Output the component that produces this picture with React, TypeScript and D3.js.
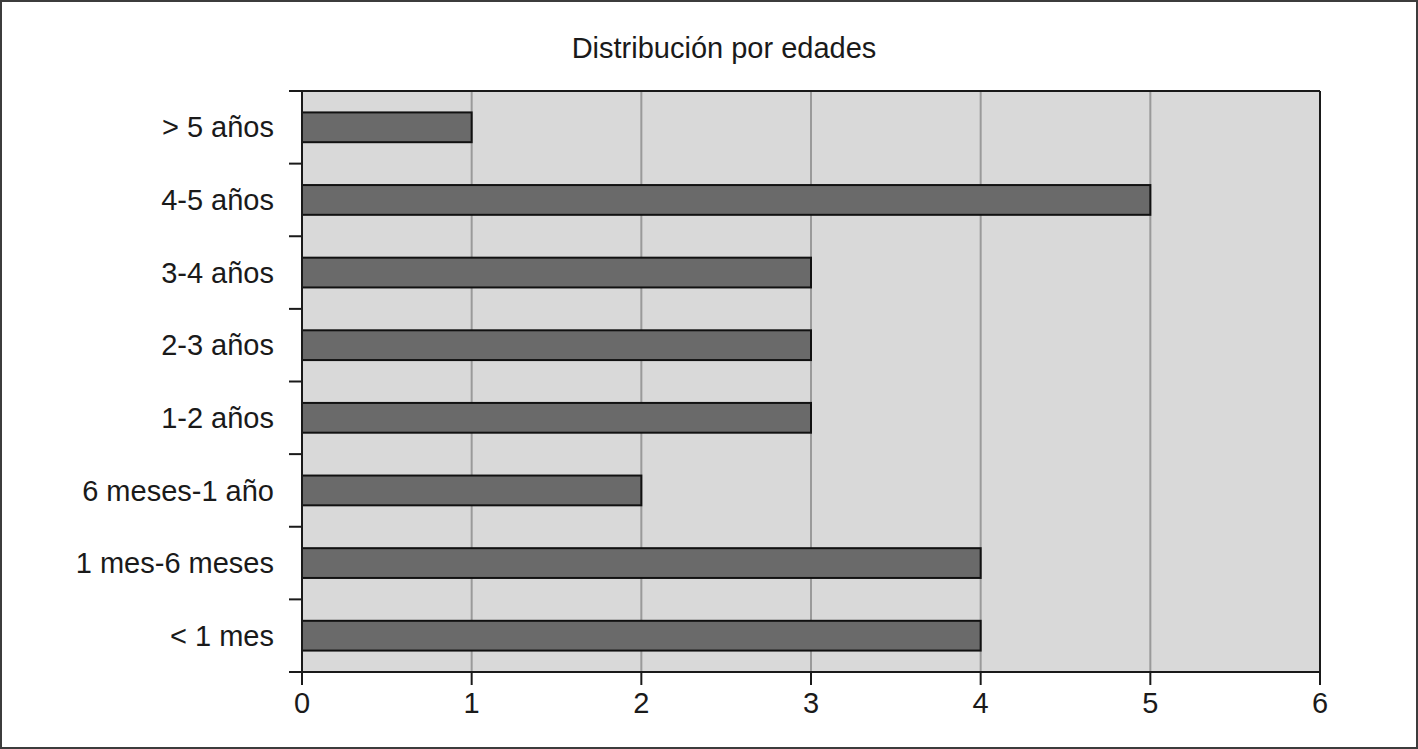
import React from "react";
import { scaleLinear, scaleBand, range } from "d3";

const width = 1418;
const height = 749;

const margin = { top: 91, right: 98, bottom: 77, left: 302 };

const title = "Distribución por edades";

// categories from top to bottom, as drawn
const categories = [
  "> 5 años",
  "4-5 años",
  "3-4 años",
  "2-3 años",
  "1-2 años",
  "6 meses-1 año",
  "1 mes-6 meses",
  "< 1 mes",
];
const values = [1, 5, 3, 3, 3, 2, 4, 4];
const xTicks = [0, 1, 2, 3, 4, 5, 6];

const fontFamily = "'Liberation Sans', Arial, Helvetica, sans-serif";
const textColor = "#1a1a1a";
const plotBg = "#d9d9d9";
const barFill = "#6a6a6a";
const gridColor = "#9a9a9a";
const axisColor = "#1a1a1a";

const tickLen = 13; // y ticks poke out left, x ticks poke out below
const fontSize = 29;

export default function App() {
  const innerWidth = width - margin.left - margin.right;
  const innerHeight = height - margin.top - margin.bottom;

  const xScale = scaleLinear().domain([0, 6]).range([0, innerWidth]);

  // bars are ~41% of each band, centered, so boundaries fall on ticks
  const yScale = scaleBand<string>()
    .domain(categories)
    .range([0, innerHeight])
    .paddingInner(0.59)
    .paddingOuter(0.295);

  const step = yScale.step();
  const boundaries = range(categories.length + 1).map((i) => i * step);

  return (
    <svg
      width={width}
      height={height}
      style={{ position: "absolute", left: 0, top: 0, display: "block" }}
      fontFamily={fontFamily}
    >
      <rect x={0} y={0} width={width} height={height} fill="#fff" />
      <rect
        x={1}
        y={1}
        width={width - 2}
        height={height - 2}
        fill="none"
        stroke="#3c3c3c"
        strokeWidth={2}
      />
      <text
        x={724}
        y={58}
        textAnchor="middle"
        fontSize={fontSize}
        fill={textColor}
      >
        {title}
      </text>

      <g transform={`translate(${margin.left},${margin.top})`}>
        <rect x={0} y={0} width={innerWidth} height={innerHeight} fill={plotBg} />

        {/* vertical gridlines */}
        {xTicks.slice(1, -1).map((t) => (
          <line
            key={t}
            x1={xScale(t)}
            x2={xScale(t)}
            y1={0}
            y2={innerHeight}
            stroke={gridColor}
            strokeWidth={2}
          />
        ))}

        {/* bars */}
        {categories.map((c, i) => (
          <rect
            key={c}
            x={xScale(0)}
            y={yScale(c)}
            width={xScale(values[i]) - xScale(0)}
            height={yScale.bandwidth()}
            fill={barFill}
            stroke="#111"
            strokeWidth={2}
          />
        ))}

        {/* y axis: ticks at band boundaries */}
        {boundaries.map((b, i) => (
          <line
            key={i}
            x1={-tickLen}
            x2={i === 0 || i === categories.length ? innerWidth : 0}
            y1={b}
            y2={b}
            stroke={axisColor}
            strokeWidth={2}
          />
        ))}
        <line x1={0} x2={0} y1={0} y2={innerHeight + tickLen} stroke={axisColor} strokeWidth={2} />
        <line
          x1={innerWidth}
          x2={innerWidth}
          y1={0}
          y2={innerHeight + tickLen}
          stroke={axisColor}
          strokeWidth={2}
        />
        {categories.map((c) => (
          <text
            key={c}
            x={-28}
            y={(yScale(c) ?? 0) + yScale.bandwidth() / 2}
            dy="0.35em"
            textAnchor="end"
            fontSize={fontSize}
            fill={textColor}
          >
            {c}
          </text>
        ))}

        {/* x axis */}
        {xTicks.map((t) => (
          <g key={t} transform={`translate(${xScale(t)},${innerHeight})`}>
            <line y1={0} y2={tickLen} stroke={axisColor} strokeWidth={2} />
            <text
              y={tickLen + 7}
              dy="0.71em"
              textAnchor="middle"
              fontSize={fontSize}
              fill={textColor}
            >
              {t}
            </text>
          </g>
        ))}
      </g>
    </svg>
  );
}
